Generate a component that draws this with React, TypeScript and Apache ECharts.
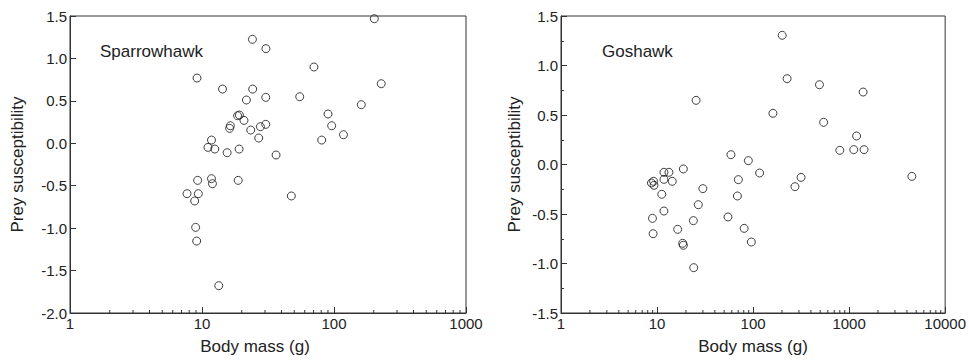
import React, { useEffect, useRef } from "react";
import * as echarts from "echarts";

// Sparrowhawk: body mass (g) and prey susceptibility
const sparrowMass = [202, 24.1, 30.5, 70.5, 9.17, 228, 14.3, 24.2, 21.7, 30.4, 55, 161, 90.1, 18.6, 19.2, 20.8, 16.4, 16.2, 96, 27.7, 30.4, 23.4, 118, 26.9, 80.7, 11.8, 11.1, 12.5, 19.1, 15.5, 36.4, 9.27, 11.8, 12.0, 18.8, 7.7, 9.38, 8.8, 47.5, 8.95, 9.11, 13.4];
const sparrowSusc = [1.468, 1.225, 1.115, 0.899, 0.769, 0.702, 0.639, 0.639, 0.51, 0.541, 0.549, 0.455, 0.345, 0.325, 0.333, 0.27, 0.207, 0.176, 0.207, 0.196, 0.223, 0.156, 0.101, 0.062, 0.038, 0.038, -0.048, -0.068, -0.068, -0.111, -0.138, -0.437, -0.417, -0.476, -0.437, -0.594, -0.594, -0.68, -0.621, -0.991, -1.152, -1.678];

// Goshawk: body mass (g) and prey susceptibility
const goshawkMass = [201, 226, 491, 1399, 25.5, 161, 543, 1197, 800, 1117, 1431, 58.8, 89.3, 18.8, 11.8, 13.3, 117, 4500, 316, 11.8, 70.3, 14.4, 8.75, 9.2, 9.3, 273, 30.0, 11.2, 68.7, 26.9, 11.8, 54.8, 8.96, 23.9, 16.4, 80.8, 9.1, 18.5, 18.8, 95.9, 24.1];
const goshawkSusc = [1.305, 0.867, 0.806, 0.732, 0.648, 0.517, 0.426, 0.288, 0.143, 0.15, 0.15, 0.099, 0.039, -0.045, -0.079, -0.079, -0.086, -0.12, -0.13, -0.15, -0.153, -0.17, -0.187, -0.17, -0.21, -0.224, -0.244, -0.301, -0.318, -0.406, -0.47, -0.53, -0.544, -0.567, -0.655, -0.645, -0.699, -0.796, -0.816, -0.783, -1.042];

const leftMinorTicks = [2, 3, 4, 5, 6, 7, 8, 9, 20, 30, 40, 50, 60, 70, 80, 90, 200, 300, 400, 500, 600, 700, 800, 900];
const rightMinorTicks = [...leftMinorTicks, 2000, 3000, 4000, 5000, 6000, 7000, 8000, 9000];

const AX = "#333";
const TXT = "#222";
const FONT = "'Liberation Sans', Arial, Helvetica, sans-serif";

function pair(xs: number[], ys: number[]) {
  return xs.map((x, i) => [x, ys[i]]);
}

export default function App() {
  const ref = useRef<HTMLDivElement>(null);
  useEffect(() => {
    if (!ref.current) return;
    const chart = echarts.init(ref.current, undefined, { renderer: "svg" });

    const xAxisBase = (gridIndex: number, max: number, nameExtra: any) => ({
      type: "log" as const,
      logBase: 10,
      gridIndex,
      min: 1,
      max,
      name: "Body mass (g)",
      nameLocation: "middle" as const,
      nameGap: 25,
      nameTextStyle: { fontSize: 17, color: TXT, fontFamily: FONT, ...nameExtra },
      axisLine: { show: true, onZero: false, lineStyle: { color: AX, width: 1 } },
      axisTick: { show: true, inside: true, length: 6, lineStyle: { color: AX } },
      axisLabel: {
        fontSize: 15,
        color: TXT,
        fontFamily: FONT,
        margin: 3,
        formatter: (v: number) => String(Math.round(v)),
      },
      splitLine: { show: false },
      minorTick: { show: false },
    });

    const yAxisBase = (gridIndex: number, min: number, minor: boolean, nameGap: number) => ({
      type: "value" as const,
      gridIndex,
      min,
      max: 1.5,
      interval: 0.5,
      name: "Prey susceptibility",
      nameLocation: "middle" as const,
      nameGap,
      nameTextStyle: { fontSize: 17, color: TXT, fontFamily: FONT },
      axisLine: { show: true, onZero: false, lineStyle: { color: AX, width: 1 } },
      axisTick: { show: true, inside: true, length: 6, lineStyle: { color: AX } },
      minorTick: { show: minor, splitNumber: 2, length: 3, lineStyle: { color: AX } },
      axisLabel: {
        fontSize: 15,
        color: TXT,
        fontFamily: FONT,
        margin: 3,
        formatter: (v: number) => v.toFixed(1),
      },
      splitLine: { show: false },
      minorSplitLine: { show: false },
    });

    const minorSeries = (idx: number, ticks: number[], yMin: number) => ({
      type: "custom" as const,
      xAxisIndex: idx,
      yAxisIndex: idx,
      silent: true,
      clip: false,
      data: ticks.map((t) => [t, yMin]),
      encode: { x: 0, y: 1 },
      renderItem: (params: any, api: any) => {
        const p = api.coord([api.value(0), api.value(1)]);
        return {
          type: "line",
          shape: { x1: p[0], y1: p[1], x2: p[0], y2: p[1] - 3 },
          style: { stroke: AX, lineWidth: 1 },
        };
      },
    });

    const scatterSeries = (idx: number, data: number[][]) => ({
      type: "scatter" as const,
      xAxisIndex: idx,
      yAxisIndex: idx,
      data,
      symbol: "circle",
      symbolSize: 8,
      itemStyle: { color: "rgba(255,255,255,0)", borderColor: "#111", borderWidth: 1 },
      emphasis: { disabled: true },
    });

    chart.setOption({
      animation: false,
      backgroundColor: "#fff",
      grid: [
        { left: 70, top: 16, width: 396, height: 297, show: true, borderColor: AX, borderWidth: 1, backgroundColor: "transparent" },
        { left: 561, top: 16, width: 396, height: 297, show: true, borderColor: AX, borderWidth: 1, backgroundColor: "transparent" },
      ],
      xAxis: [
        xAxisBase(0, 1000, { padding: [0, 26, 0, 0] }),
        xAxisBase(1, 10000, {}),
      ],
      yAxis: [yAxisBase(0, -2, false, 44), yAxisBase(1, -1.5, true, 38)],
      series: [
        minorSeries(0, leftMinorTicks, -2),
        minorSeries(1, rightMinorTicks, -1.5),
        scatterSeries(0, pair(sparrowMass, sparrowSusc)),
        scatterSeries(1, pair(goshawkMass, goshawkSusc)),
      ],
      graphic: [
        {
          type: "text",
          left: 100,
          top: 43,
          style: { text: "Sparrowhawk", fontSize: 17, fill: TXT, fontFamily: FONT },
        },
        {
          type: "text",
          left: 602,
          top: 43,
          style: { text: "Goshawk", fontSize: 17, fill: TXT, fontFamily: FONT },
        },
      ],
    });
    return () => chart.dispose();
  }, []);

  return (
    <div
      ref={ref}
      style={{ position: "absolute", left: 0, top: 0, width: 969, height: 364, background: "#fff" }}
    />
  );
}
